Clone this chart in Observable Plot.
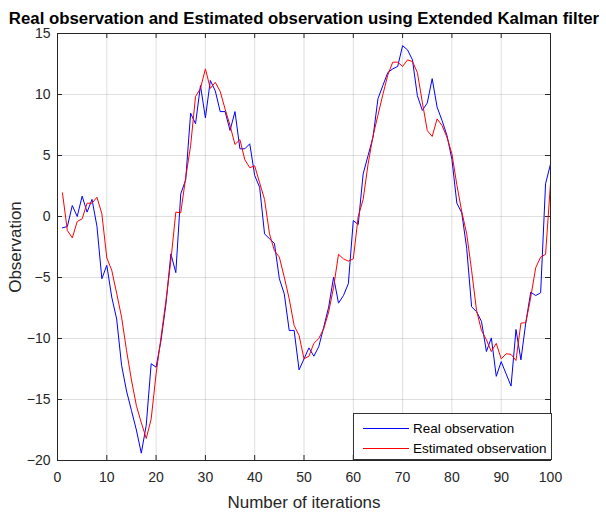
<!DOCTYPE html>
<html>
<head>
<meta charset="utf-8">
<script src="https://cdn.jsdelivr.net/npm/d3@7"></script>
<script src="https://cdn.jsdelivr.net/npm/@observablehq/plot@0.6"></script>
<style>
  html, body { margin: 0; padding: 0; background: #fff; }
  #wrap { position: relative; width: 606px; height: 513px; font-family: "Liberation Sans", Arial, sans-serif; }
  #legend { position: absolute; left: 353px; top: 413px; width: 197px; height: 45px; background: #fff; border: 1px solid #333; font-size: 13.5px; color: #000; white-space: nowrap; }
  .row { position: absolute; left: 0; display: flex; align-items: center; height: 18px; white-space: nowrap; }
  .sw { display: inline-block; width: 46px; height: 0; border-top: 1px solid; margin-left: 9px; margin-right: 4px; }
</style>
</head>
<body>
<div id="wrap">
  <div id="chart"></div>
  <div id="legend">
    <div class="row" style="top:5px"><span class="sw" style="border-color:#0000ff"></span><span>Real observation</span></div>
    <div class="row" style="top:25px"><span class="sw" style="border-color:#ff0000"></span><span>Estimated observation</span></div>
  </div>
</div>
<script>
const titleText = "Real observation and Estimated observation using Extended Kalman filter";
const xLabel = "Number of iterations";
const yLabel = "Observation";
const xTicks = [0, 10, 20, 30, 40, 50, 60, 70, 80, 90, 100];
const yTicks = [-20, -15, -10, -5, 0, 5, 10, 15];
const seriesNames = ["Real observation", "Estimated observation"];

const realObs = [-0.93, -0.82, 0.9, 0.0, 1.67, 0.36, 1.4, -0.8, -5.1, -4.0,
  -6.6, -8.4, -12.2, -14.3, -15.9, -17.5, -19.4, -17.1, -12.07, -12.35,
  -10.16, -7.16, -3.06, -4.6, 1.86, 3.0, 8.47, 7.6, 10.74, 8.09,
  11.15, 10.3, 8.6, 8.6, 7.05, 8.6, 5.55, 5.55, 5.96, 3.36,
  2.4, -1.42, -1.83, -2.2, -5.1, -6.34, -9.34, -9.34, -12.57, -11.67,
  -10.77, -11.45, -10.66, -9.07, -7.43, -4.97, -7.1, -6.48, -5.5, -0.33,
  -0.66, 3.5, 5.0, 6.5, 9.65, 10.74, 11.8, 12.1, 12.3, 14.0,
  13.66, 12.84, 9.9, 8.7, 9.3, 11.3, 8.96, 7.87, 6.64, 4.7,
  1.1, 0.3, -2.6, -7.4, -7.8, -8.6, -11.07, -9.95, -13.1, -11.9,
  -12.9, -13.9, -9.26, -11.75, -8.66, -6.2, -6.48, -6.25, 2.68, 4.3];

const estObs = [1.94, -1.15, -1.75, -0.41, -0.19, 1.09, 1.09, 1.58, 0.22, -3.4,
  -4.4, -6.3, -8.25, -10.98, -13.4, -15.5, -16.9, -18.2, -16.6, -12.9,
  -9.9, -6.9, -3.6, 0.36, 0.3, 3.2, 5.8, 9.84, 10.5, 12.1,
  10.5, 11.0, 10.25, 8.8, 7.46, 5.9, 6.3, 4.65, 4.0, 4.15,
  2.76, 1.4, -1.42, -2.8, -3.33, -4.97, -6.75, -8.93, -9.75, -11.67,
  -11.45, -10.4, -10.0, -9.2, -7.84, -5.8, -3.1, -3.47, -3.66, -3.47,
  0.0, 1.4, 4.3, 6.6, 8.3, 10.0, 11.6, 12.65, 12.65, 12.3,
  12.84, 12.7, 11.8, 9.37, 7.05, 6.56, 8.0, 7.46, 6.5, 5.14,
  2.6, 0.4, -1.42, -4.43, -7.7, -9.34, -10.1, -11.07, -10.4, -11.67,
  -11.25, -11.3, -11.8, -8.74, -8.7, -6.6, -4.2, -3.33, -3.1, 2.7];

const realData = realObs.map((v, i) => ({iter: i + 1, value: v}));
const estData = estObs.map((v, i) => ({iter: i + 1, value: v}));

const W = 606, H = 513, mL = 57, mR = 56, mT = 33, mB = 53;
const innerW = W - mL - mR, innerH = H - mT - mB;
const tickLen = 5;

const chart = Plot.plot({
  width: W, height: H,
  marginLeft: mL, marginRight: mR, marginTop: mT, marginBottom: mB,
  style: {fontFamily: "'Liberation Sans', Arial, sans-serif", background: "#fff", color: "#262626", overflow: "visible"},
  x: {domain: [0, 100]},
  y: {domain: [-20, 15]},
  marks: [
    Plot.gridX(xTicks, {stroke: "#262626", strokeOpacity: 0.15}),
    Plot.gridY(yTicks, {stroke: "#262626", strokeOpacity: 0.15}),
    Plot.axisX(xTicks, {tickSize: 0, tickPadding: 12, fontSize: 14, label: null, fill: "#262626"}),
    Plot.axisY(yTicks, {tickSize: 0, tickPadding: 7, fontSize: 14, label: null, fill: "#262626"}),
    Plot.tickX(xTicks, {x: d => d, insetTop: innerH - tickLen, stroke: "#262626"}),
    Plot.tickX(xTicks, {x: d => d, insetBottom: innerH - tickLen, stroke: "#262626"}),
    Plot.tickY(yTicks, {y: d => d, insetRight: innerW - tickLen, stroke: "#262626"}),
    Plot.tickY(yTicks, {y: d => d, insetLeft: innerW - tickLen, stroke: "#262626"}),
    Plot.line(realData, {x: "iter", y: "value", stroke: "#0000ff", strokeWidth: 1}),
    Plot.line(estData, {x: "iter", y: "value", stroke: "#ff0000", strokeWidth: 1}),
    Plot.frame({stroke: "#262626", strokeWidth: 1}),
    Plot.text([titleText], {frameAnchor: "top", dy: -21, fontSize: 16.8, fontWeight: "bold", fill: "#000", textAnchor: "middle"}),
    Plot.text([xLabel], {frameAnchor: "bottom", dy: 42, fontSize: 17, fill: "#262626", textAnchor: "middle", lineAnchor: "middle"}),
    Plot.text([yLabel], {frameAnchor: "left", dx: -42, rotate: -90, fontSize: 17, fill: "#262626", textAnchor: "middle", lineAnchor: "middle"})
  ]
});
document.getElementById("chart").appendChild(chart);
</script>
</body>
</html>
